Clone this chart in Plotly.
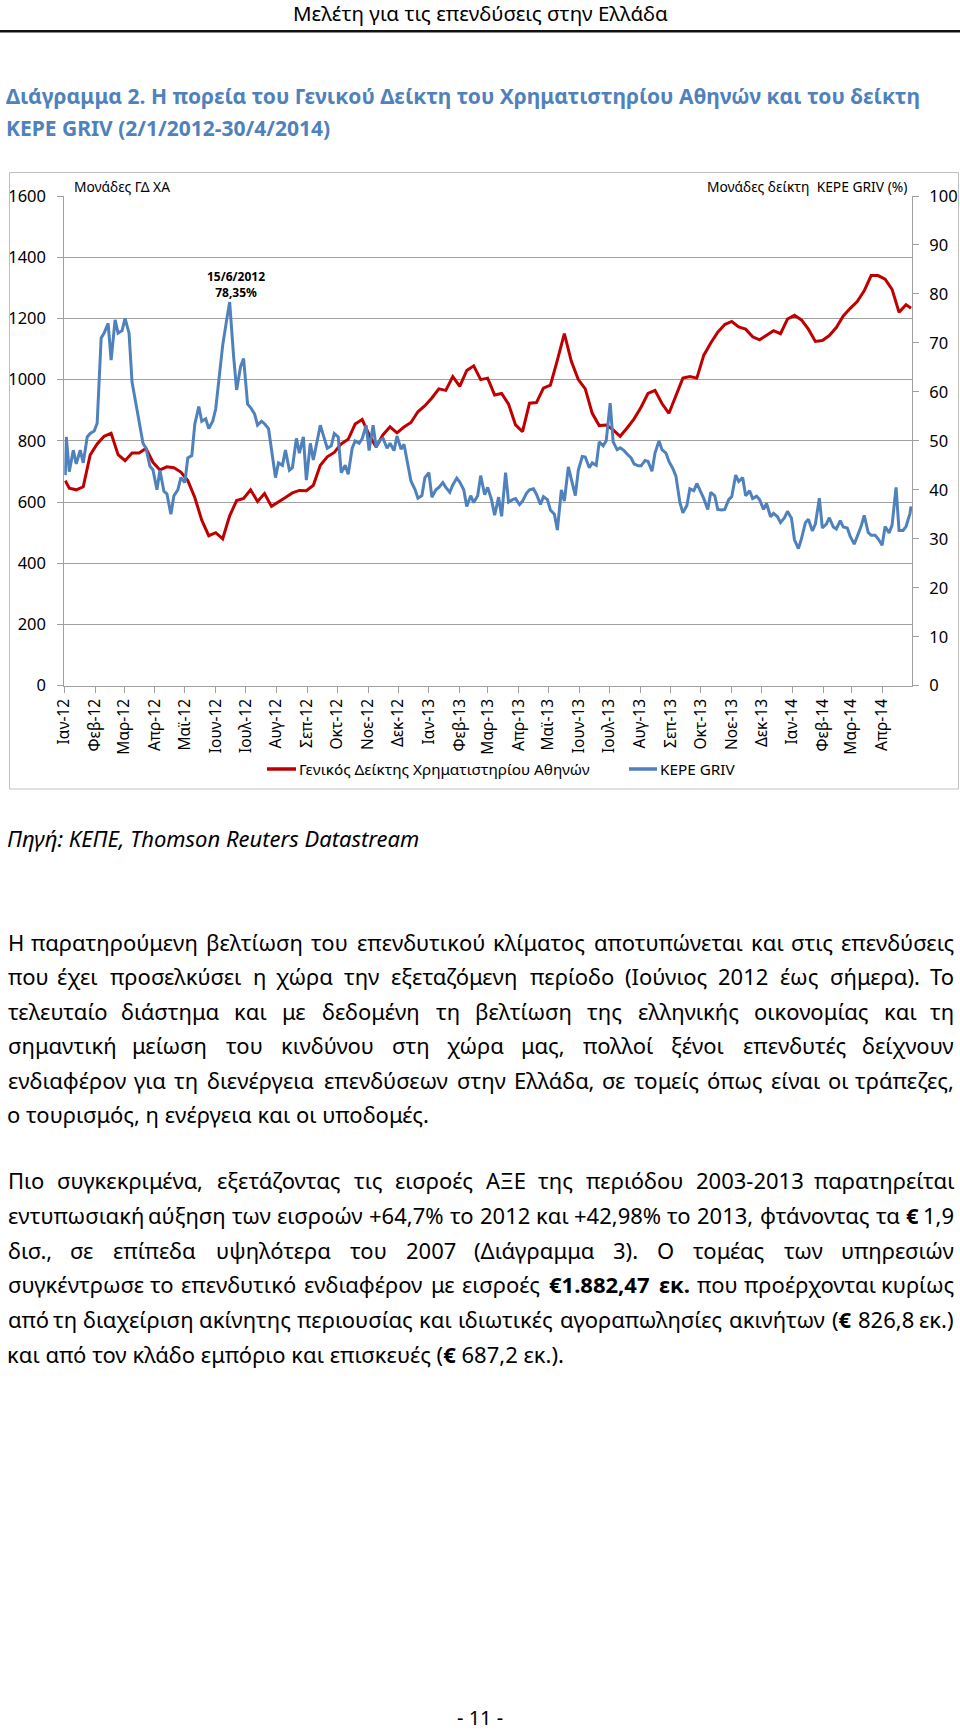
import re
import unicodedata
import pandas as pd
import plotly.graph_objects as go

W, H = 960, 1730

# ---------------- data ----------------
month_labels = ["Ιαν-12", "Φεβ-12", "Μαρ-12", "Απρ-12", "Μαϊ-12", "Ιουν-12", "Ιουλ-12", "Αυγ-12",
                "Σεπ-12", "Οκτ-12", "Νοε-12", "Δεκ-12", "Ιαν-13", "Φεβ-13", "Μαρ-13", "Απρ-13",
                "Μαϊ-13", "Ιουν-13", "Ιουλ-13", "Αυγ-13", "Σεπ-13", "Οκτ-13", "Νοε-13", "Δεκ-13",
                "Ιαν-14", "Φεβ-14", "Μαρ-14", "Απρ-14"]
month_starts = pd.date_range("2012-01-01", "2014-04-01", freq="MS")

series_names = ["Γενικός Δείκτης Χρηματιστηρίου Αθηνών", "KEPE GRIV"]

# Athens General Index (left axis), weekly (Fridays) + first / last day
ase_dates = ([pd.Timestamp("2012-01-02")]
             + list(pd.date_range("2012-01-06", "2014-04-25", freq="W-FRI"))
             + [pd.Timestamp("2014-04-30")])
ase_values = [670,
              645, 640, 650, 754, 790, 815, 825, 755, 735, 760, 760, 775, 730, 705, 715, 712,
              698, 670, 615, 541, 490, 500, 480, 555, 605, 612, 640, 602, 628, 586, 602, 615,
              630, 638, 637, 655, 720, 748, 762, 790, 805, 855, 870, 820, 780, 820, 846, 826,
              845, 860, 895, 915, 940, 970, 965, 1010, 978, 1030, 1045, 1000, 1005, 950, 955, 920,
              852, 830, 923, 925, 972, 982, 1064, 1150, 1060, 1000, 970, 890, 850, 852, 836, 815,
              842, 872, 910, 955, 965, 922, 890, 945, 1005, 1010, 1005, 1080, 1120, 1155, 1180, 1190,
              1172, 1165, 1140, 1130, 1145, 1160, 1150, 1198, 1210, 1195, 1165, 1125, 1128, 1144, 1170, 1208,
              1233, 1255, 1290, 1340, 1340, 1328, 1295, 1220, 1245,
              1233]

# KEPE GRIV (right axis, %), twice a week (Tue / Fri) + first / last day
griv_dates = ([pd.Timestamp("2012-01-02")]
              + sorted(pd.date_range("2012-01-03", "2014-04-29", freq="W-TUE")
                       .union(pd.date_range("2012-01-06", "2014-04-25", freq="W-FRI")))
              + [pd.Timestamp("2014-04-30")])
griv_values = [43.0,
               50.8, 43.7, 48.1, 45.3, 48.1, 45.5, 50.8, 51.5, 52.0, 53.6,
               71.0, 72.0, 74.0, 66.5, 74.7, 72.0, 72.5, 75.0, 72.0, 62.0,
               57.5, 54.5, 49.5, 48.5, 44.8, 44.1, 40.0, 44.0, 39.7, 39.2,
               35.0, 38.8, 40.0, 42.5, 41.5, 46.5, 47.0, 53.4, 57.0, 54.0,
               54.5, 52.5, 54.0, 56.5, 64.0, 69.5, 74.7, 78.35, 67.2, 60.4,
               65.2, 66.8, 57.5, 56.8, 55.5, 53.2, 54.0, 53.5, 52.5, 48.3,
               42.5, 45.5, 45.0, 48.1, 44.0, 44.5, 50.5, 47.5, 50.8, 42.0,
               49.5, 46.1, 50.0, 53.2, 50.5, 48.5, 49.0, 51.5, 50.8, 43.5,
               45.0, 43.2, 48.5, 50.0, 49.5, 50.4, 53.2, 48.0, 53.2, 48.8,
               50.1, 50.5, 48.5, 49.5, 48.0, 51.0, 48.3, 49.3, 45.0, 41.8,
               40.1, 38.3, 38.8, 42.5, 43.5, 38.5, 40.0, 40.5, 41.5, 40.5,
               39.5, 41.0, 42.4, 41.6, 40.0, 36.6, 38.8, 37.4, 38.8, 42.9,
               39.0, 40.5, 37.9, 34.8, 38.5, 34.6, 43.5, 37.5, 38.0, 38.2,
               37.0, 37.7, 39.3, 40.0, 40.2, 39.1, 37.0, 38.6, 38.0, 35.9,
               35.0, 31.8, 40.0, 37.7, 44.7, 42.0, 38.8, 44.0, 46.8, 46.7,
               44.5, 45.5, 45.0, 49.8, 49.0, 50.0, 57.7, 49.8, 48.2, 48.6,
               48.0, 47.3, 46.5, 45.3, 44.9, 44.9, 46.0, 45.8, 43.8, 47.5,
               50.0, 48.2, 47.5, 45.8, 44.3, 42.8, 37.4, 35.3, 36.8, 40.2,
               39.8, 41.3, 39.7, 38.2, 36.0, 39.5, 38.8, 36.0, 35.9, 36.0,
               38.0, 38.6, 43.0, 41.7, 42.5, 38.8, 39.8, 38.2, 38.7, 38.0,
               36.0, 37.2, 34.5, 35.2, 34.5, 33.3, 34.3, 35.6, 34.2, 29.8,
               28.0, 30.0, 33.3, 34.0, 31.6, 33.0, 38.3, 32.2, 33.0, 34.3,
               32.4, 32.0, 33.7, 32.4, 32.2, 30.5, 28.9, 30.6, 32.6, 34.8,
               31.3, 30.7, 30.7, 30.0, 28.7, 32.5, 31.2, 32.8, 40.5, 31.7,
               31.7, 32.5, 35.2,
               36.6]

peak_date = "2012-06-15"
peak_value = 78.35
peak_label = "15/6/2012<br>78,35%"

left_ticks = list(range(0, 1601, 200))
right_ticks = list(range(0, 101, 10))

# ---------------- page texts ----------------
header_text = "Μελέτη για τις επενδύσεις στην Ελλάδα"
title_lines = ["Διάγραμμα 2. Η πορεία του Γενικού Δείκτη του Χρηματιστηρίου Αθηνών και του δείκτη",
               "KEPE GRIV (2/1/2012-30/4/2014)"]
left_axis_title = "Μονάδες ΓΔ ΧΑ"
right_axis_title = "Μονάδες δείκτη  KEPE GRIV (%)"
source_text = "Πηγή: ΚΕΠΕ, Thomson Reuters Datastream"
para1 = ["Η παρατηρούμενη βελτίωση του επενδυτικού κλίματος αποτυπώνεται και στις επενδύσεις",
         "που έχει προσελκύσει η χώρα την εξεταζόμενη περίοδο (Ιούνιος 2012 έως σήμερα). Το",
         "τελευταίο διάστημα και με δεδομένη τη βελτίωση της ελληνικής οικονομίας και τη",
         "σημαντική μείωση του κινδύνου στη χώρα μας, πολλοί ξένοι επενδυτές δείχνουν",
         "ενδιαφέρον για τη διενέργεια επενδύσεων στην Ελλάδα, σε τομείς όπως είναι οι τράπεζες,",
         "ο τουρισμός, η ενέργεια και οι υποδομές."]
para2 = ["Πιο συγκεκριμένα, εξετάζοντας τις εισροές ΑΞΕ της περιόδου 2003-2013 παρατηρείται",
         "εντυπωσιακή αύξηση των εισροών +64,7% το 2012 και +42,98% το 2013, φτάνοντας τα <b>€</b> 1,9",
         "δισ., σε επίπεδα υψηλότερα του 2007 (Διάγραμμα 3). Ο τομέας των υπηρεσιών",
         "συγκέντρωσε το επενδυτικό ενδιαφέρον με εισροές <b>€1.882,47</b> <b>εκ.</b> που προέρχονται κυρίως",
         "από τη διαχείριση ακίνητης περιουσίας και ιδιωτικές αγοραπωλησίες ακινήτων (<b>€</b> 826,8 εκ.)",
         "και από τον κλάδο εμπόριο και επισκευές (<b>€</b> 687,2 εκ.)."]
page_number = "- 11 -"

FONT = "Noto Sans"
RED = "#C00000"
BLUE = "#4F81BD"
GRID = "#a0a0a0"
COLORS = [RED, BLUE]


def px(x):
    return x / W


def py(y):
    return 1 - y / H


# rough glyph advance widths (em) for justification
CW = {' ': .26, '.': .27, ',': .27, ':': .27, '(': .3, ')': .3, '%': .82, '€': .57, '-': .32,
      '+': .57, '/': .37}
for d in "0123456789":
    CW[d] = .57
CW.update(dict(zip("αβγδεζηθικλμνξοπρσςτυφχψω",
                   [.6, .6, .52, .58, .49, .46, .61, .58, .32, .55, .52, .62, .52, .47, .6, .66, .6,
                    .6, .47, .47, .59, .76, .51, .76, .8])))
CW.update(dict(zip("ΑΒΓΔΕΖΗΘΙΚΛΜΝΞΟΠΡΣΤΥΦΧΨΩ",
                   [.64, .65, .52, .62, .56, .57, .74, .78, .32, .6, .61, .89, .76, .55, .78, .74, .6,
                    .57, .55, .57, .81, .58, .81, .76])))
CW.update(dict(zip("abcdefghijklmnopqrstuvwxyz",
                   [.56, .61, .48, .61, .56, .34, .61, .61, .26, .26, .53, .26, .93, .61, .6, .61,
                    .61, .41, .48, .35, .61, .5, .78, .52, .5, .47])))


def text_width(s, size):
    bold = s.startswith("<b>") and s.endswith("</b>")
    plain = re.sub(r"<[^>]+>", "", s)
    tot = 0.0
    for ch in unicodedata.normalize("NFD", plain):
        if unicodedata.combining(ch):
            continue
        tot += CW.get(ch, 0.6)
    return tot * size * (1.06 if bold else 1.0)


annotations = []


def add_text(text, x, y, size, anchor="left", color="#000", family=FONT):
    annotations.append(dict(text=text, x=px(x), y=py(y), xref="paper", yref="paper",
                            xanchor=anchor, yanchor="middle", showarrow=False,
                            font=dict(size=size, color=color, family=family)))


def justified(line, y, size, x0=6, x1=956):
    words = line.split(" ")
    ws = [text_width(w, size) for w in words]
    gap = (x1 - x0 - sum(ws)) / (len(words) - 1)
    x = x0
    for i, (w, wd) in enumerate(zip(words, ws)):
        if i == 0:
            add_text(w, x0, y, size, "left")
        elif i == len(words) - 1:
            add_text(w, x1, y, size, "right")
        else:
            add_text(w, x + wd / 2, y, size, "center")
        x += wd + gap


# ---------------- figure ----------------
fig = go.Figure()
fig.add_trace(go.Scatter(x=ase_dates, y=ase_values, name=series_names[0], mode="lines",
                         line=dict(color=RED, width=3), yaxis="y"))
fig.add_trace(go.Scatter(x=griv_dates, y=griv_values, name=series_names[1], mode="lines",
                         line=dict(color=BLUE, width=3), yaxis="y2"))

# peak annotation
annotations.append(dict(text="<b>" + peak_label + "</b>", x=peak_date, y=peak_value, xref="x", yref="y2",
                        xanchor="center", yanchor="bottom", showarrow=False, xshift=6, yshift=-1,
                        font=dict(size=12, color="#000", family=FONT)))

# header / title
add_text(header_text, 480, 13, 20.5, "center")
add_text("<b>" + title_lines[0] + "</b>", 4, 96, 21, "left", color=BLUE)
add_text("<b>" + title_lines[1] + "</b>", 4, 128, 21, "left", color=BLUE)

# axis titles
add_text(left_axis_title, 72, 186, 13.8, "left")
add_text(right_axis_title, 909, 186, 13.8, "right")

# page furniture: header rule and chart frame
shapes = [
    dict(type="rect", xref="paper", yref="paper", x0=0, x1=1, y0=py(32.5), y1=py(30),
         fillcolor="#111", line=dict(width=0), layer="above"),
    dict(type="rect", xref="paper", yref="paper", x0=px(9.5), x1=px(958.5), y0=py(172.5), y1=py(789),
         line=dict(color="#c0c0c0", width=1)),
]

# legend (drawn by hand so that its items sit where the reference has them)
legend_y = 769
legend_items = [(267, 296), (629, 657)]
for (a, b), name, col in zip(legend_items, series_names, COLORS):
    shapes.append(dict(type="line", xref="paper", yref="paper", x0=px(a), x1=px(b),
                       y0=py(legend_y), y1=py(legend_y), line=dict(color=col, width=3.5)))
    add_text(name, b + 1, legend_y, 15.3, "left")

# source + paragraphs
BODY = 22
add_text("<i>" + source_text + "</i>", 5, 838, BODY, "left")
for k, line in enumerate(para1):
    y = 942 + 34.4 * k
    if k < len(para1) - 1:
        justified(line, y, BODY)
    else:
        add_text(line, 5, y, BODY, "left")
for k, line in enumerate(para2):
    y = 1180 + 34.8 * k
    if k < len(para2) - 1:
        justified(line, y, BODY)
    else:
        add_text(line, 5, y, BODY, "left")

add_text(page_number, 480, 1717, 20, "center")

axis_font = dict(family=FONT, size=16.5, color="#000")
fig.update_layout(
    width=W, height=H, autosize=False,
    margin=dict(l=0, r=0, t=0, b=0, autoexpand=False),
    paper_bgcolor="white", plot_bgcolor="white",
    font=dict(family=FONT, color="#000"),
    xaxis=dict(type="date", domain=[px(64.3), px(912)],
               range=["2012-01-01", "2014-05-01"],
               tickvals=list(month_starts), ticktext=month_labels,
               tickangle=-90, tickfont=dict(family=FONT, size=15.5, color="#000"),
               ticks="outside", ticklen=6, tickcolor=GRID, automargin=False,
               showline=True, linecolor=GRID, linewidth=1, showgrid=False, zeroline=False),
    yaxis=dict(domain=[py(685.7), py(196)], range=[0, 1600], tickvals=left_ticks,
               tickfont=axis_font, ticks="outside", ticklen=6, tickcolor=GRID,
               showline=True, linecolor=GRID, linewidth=1, automargin=False,
               showgrid=True, gridcolor=GRID, gridwidth=1, zeroline=False,
               ticklabelstandoff=8),
    yaxis2=dict(overlaying="y", side="right", range=[0, 100], tickvals=right_ticks,
                tickfont=axis_font, ticks="outside", ticklen=6, tickcolor=GRID, automargin=False,
                showline=True, linecolor=GRID, linewidth=1, showgrid=False, zeroline=False,
                ticklabelstandoff=7, anchor="x"),
    showlegend=False,
    annotations=annotations,
    shapes=shapes,
)

fig.write_html("out.html", config={"displayModeBar": False},
               post_script="document.body.style.margin='0';document.body.style.overflow='hidden';")
